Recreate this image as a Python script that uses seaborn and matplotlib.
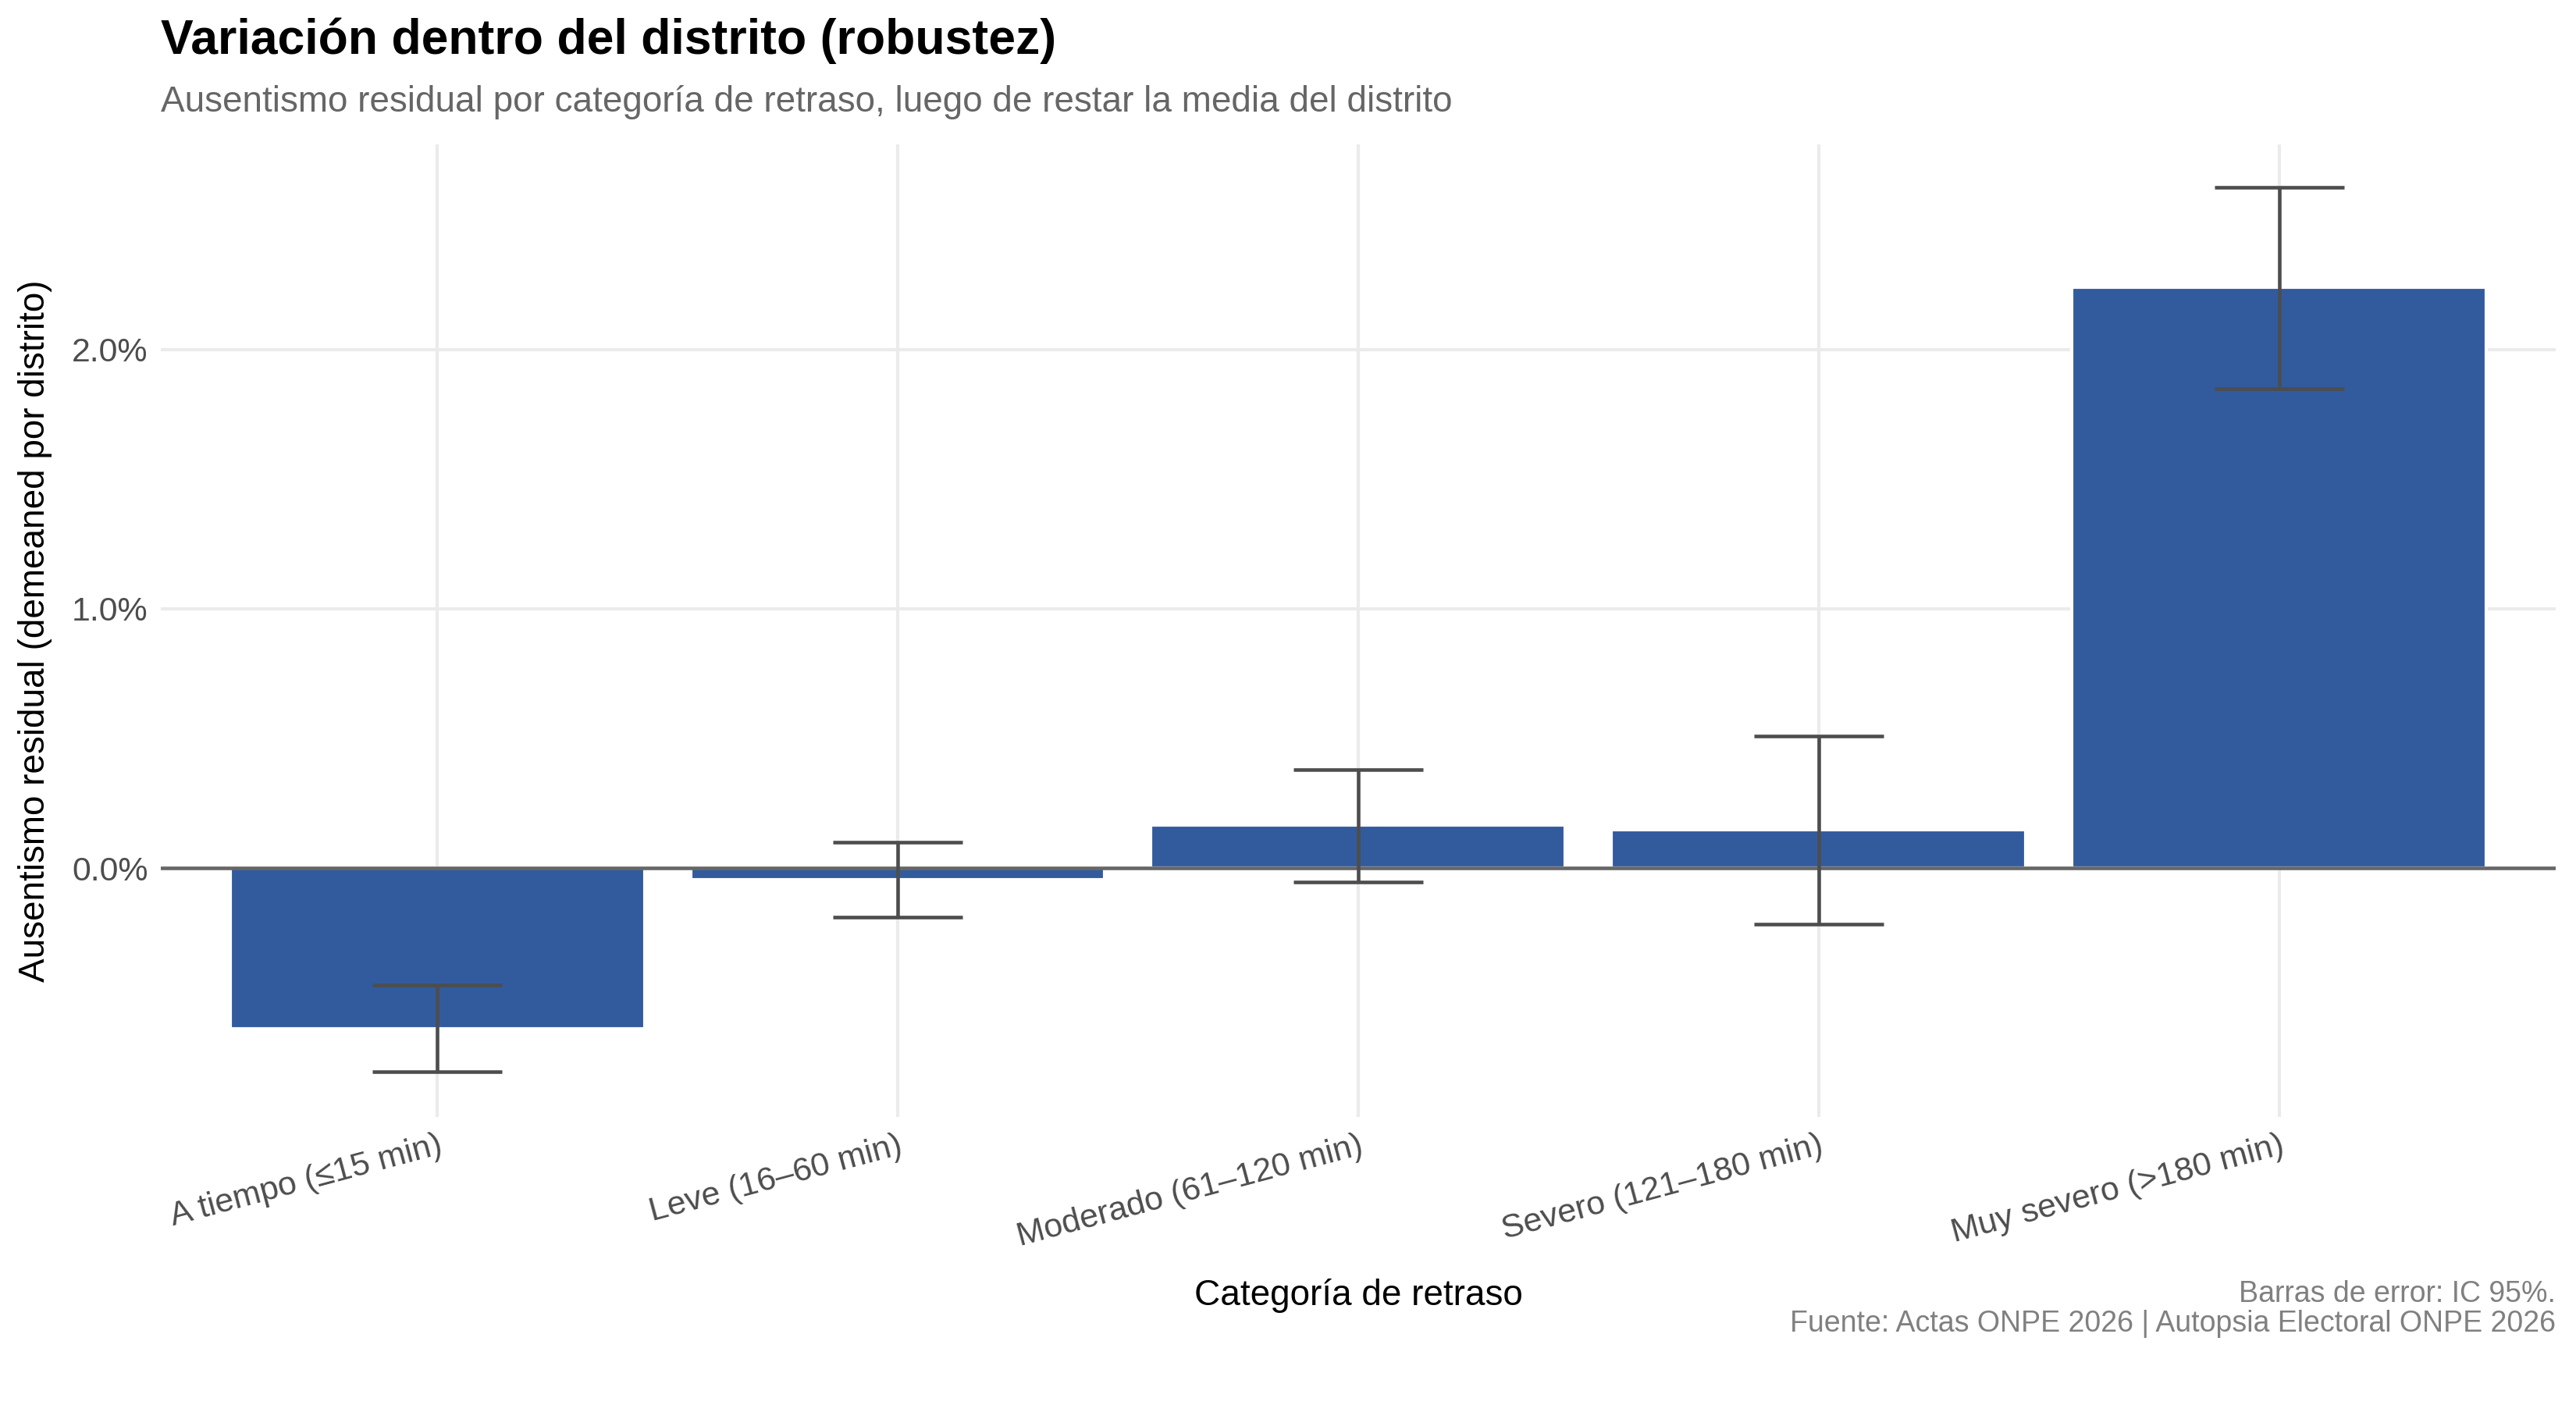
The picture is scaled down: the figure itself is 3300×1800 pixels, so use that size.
import pandas as pd
import seaborn as sns
import matplotlib.pyplot as plt
from matplotlib.ticker import FuncFormatter

categorias = ["A tiempo (≤15 min)", "Leve (16–60 min)", "Moderado (61–120 min)",
              "Severo (121–180 min)", "Muy severo (>180 min)"]
residual = [-0.62, -0.045, 0.165, 0.148, 2.24]
ci_low = [-0.785, -0.19, -0.055, -0.215, 1.85]
ci_high = [-0.45, 0.10, 0.38, 0.51, 2.625]

df = pd.DataFrame({"cat": categorias, "res": residual, "lo": ci_low, "hi": ci_high})

sns.set_theme(style="whitegrid")
plt.rcParams["font.family"] = ["Liberation Sans", "DejaVu Sans"]

fig = plt.figure(figsize=(11, 6), dpi=300)
ax = fig.add_axes([0.0625, 0.205, 0.9295, 0.692])

sns.barplot(data=df, x="cat", y="res", color="#325B9E",
            width=0.9, saturation=1, ax=ax, zorder=2)
ax.axhline(0, color="#666666", lw=1.1, zorder=3)
ax.errorbar(range(len(df)), df["res"],
            yerr=[df["res"] - df["lo"], df["hi"] - df["res"]],
            fmt="none", ecolor="#4D4D4D", elinewidth=1.1, capsize=20,
            capthick=1.1, zorder=4)

ax.set_xlim(-0.6, 4.6)
ax.set_ylim(-0.96, 2.79)
ax.set_yticks([0, 1, 2])
ax.yaxis.set_major_formatter(FuncFormatter(lambda v, p: f"{v:.1f}%"))
ax.grid(True, color="#EBEBEB", lw=1.0, zorder=0)
ax.set_axisbelow(True)
for s in ax.spines.values():
    s.set_visible(False)
ax.tick_params(length=0, labelsize=10.3, labelcolor="#4D4D4D", pad=4)
plt.setp(ax.get_xticklabels(), rotation=15, ha="right", rotation_mode="anchor")

ax.set_xlabel("Categoría de retraso", fontsize=11, color="black", labelpad=8)
ax.set_ylabel("Ausentismo residual (demeaned por distrito)", fontsize=11,
              color="black", labelpad=6)

fig.text(0.0625, 0.971, "Variación dentro del distrito (robustez)", fontsize=15,
         fontweight="bold", color="black", va="center", ha="left")
fig.text(0.0625, 0.927, "Ausentismo residual por categoría de retraso, luego de restar la media del distrito",
         fontsize=11, color="#666666", va="center", ha="left")
fig.text(0.992, 0.079, "Barras de error: IC 95%.", fontsize=9, color="#808080",
         va="center", ha="right")
fig.text(0.992, 0.058, "Fuente: Actas ONPE 2026 | Autopsia Electoral ONPE 2026",
         fontsize=9, color="#808080", va="center", ha="right")

fig.savefig("out.png", dpi=300, facecolor="white")
